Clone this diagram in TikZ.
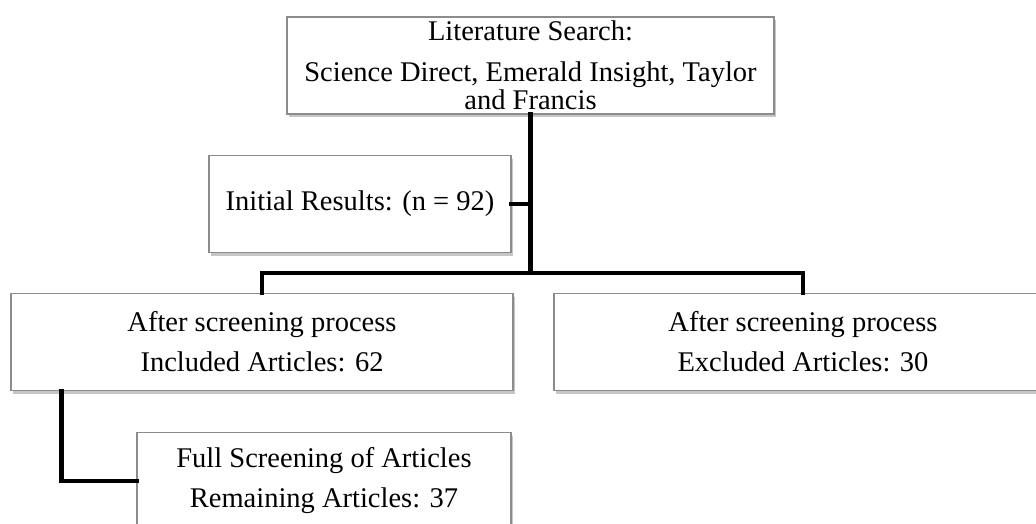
\documentclass[tikz,border=0pt]{standalone}
\usepackage{fontspec}
\setmainfont{Liberation Serif}
\usetikzlibrary{shadows}

\begin{document}
\begin{tikzpicture}[
x=1pt,y=-1pt,
font=\fontsize{28.5}{28}\selectfont,
box/.style={rectangle,draw=black!45,line width=1.2pt,fill=white,align=center,inner sep=0pt,minimum height=97pt,
  drop shadow={opacity=0.45,shadow xshift=2pt,shadow yshift=-3pt}},
channel/.style={line width=4.5pt,line cap=rect}
]
\useasboundingbox (0,0) rectangle (1036,523);

% Boxes
\node [box,minimum width=487pt] at (530.5,65.5) (lit) {Literature Search:\\[13pt]Science Direct, Emerald Insight, Taylor\\and Francis};
\node [box,minimum width=302pt] at (360,204) (init) {Initial Results: (n = 92)};
\node [box,minimum width=502pt] at (262,342) (incl) {After screening process\\[12pt]Included Articles: 62};
\node [box,minimum width=498pt] at (803,342) (excl) {After screening process\\[12pt]Excluded Articles: 30};
\node [box,minimum width=374pt] at (324,481) (full) {Full Screening of Articles\\[12pt]Remaining Articles: 37};

% Channels
\coordinate (split) at (lit.south |- 0,273);
\coordinate (drop) at ([xshift=51pt]incl.south west);
\draw [channel] (lit.south) to (split);
\draw [channel] (init.east) to (init.east -| split);
\draw [channel] (incl.north) |- (split) -| (excl.north);
\draw [channel] (drop) |- (full.west);
\end{tikzpicture}
\end{document}
